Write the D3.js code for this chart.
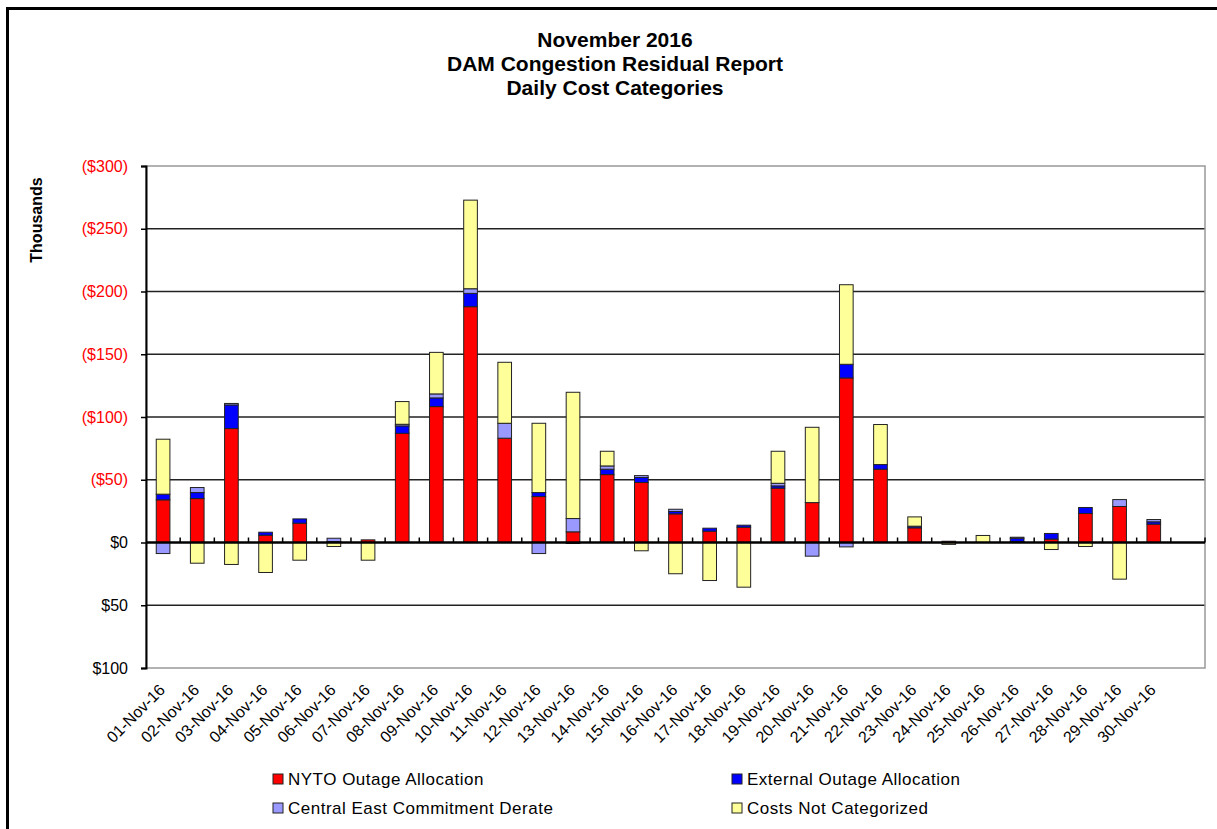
<!DOCTYPE html>
<html>
<head>
<meta charset="utf-8">
<script src="https://cdn.jsdelivr.net/npm/d3@7"></script>
<style>
  body { margin: 0; background: #fff; }
  svg { display: block; font-family: "Liberation Sans", Arial, sans-serif; }
</style>
</head>
<body>
<svg id="chart" width="1217" height="829"></svg>
<script>
// thousands of dollars; costs (negative) plot upward as ($...)
const days = ["01-Nov-16","02-Nov-16","03-Nov-16","04-Nov-16","05-Nov-16","06-Nov-16","07-Nov-16","08-Nov-16","09-Nov-16","10-Nov-16",
  "11-Nov-16","12-Nov-16","13-Nov-16","14-Nov-16","15-Nov-16","16-Nov-16","17-Nov-16","18-Nov-16","19-Nov-16","20-Nov-16",
  "21-Nov-16","22-Nov-16","23-Nov-16","24-Nov-16","25-Nov-16","26-Nov-16","27-Nov-16","28-Nov-16","29-Nov-16","30-Nov-16"];

const nytoOutage = [-34.0,-35.0,-90.8,-5.8,-15.4,0,-2.1,-87.0,-108.3,-187.9,
  -83.1,-36.6,-8.5,-54.1,-47.8,-22.8,-9.0,-12.2,-43.3,-31.8,
  -131.1,-58.4,-11.7,-1.0,0,-0.8,-2.7,-23.1,-28.7,-14.6];
const externalOutage = [-4.5,-4.8,-18.8,-2.4,-3.4,-0.8,0,-5.9,-6.9,-10.6,
  0,-3.2,0.8,-4.3,-4.0,-1.9,-2.4,-1.6,-1.8,0,
  -10.9,-3.7,-1.3,0,0,-2.5,-4.5,-4.8,0,-1.9];
const centralEast = [8.8,-4.0,-1.2,0,0,-2.6,0,-1.3,-3.2,-3.7,
  -11.9,8.8,-10.6,-2.6,-1.5,-1.8,0,0,-2.1,10.9,
  3.5,0,0,0,0,-0.9,0,0,-5.5,-1.8];
const notCategorized = [-43.8,16.5,17.5,23.9,14.1,3.2,14.1,-18.1,-33.1,-70.6,
  -48.6,-55.2,-100.6,-11.7,6.6,24.9,30.3,35.6,-25.5,-60.0,
  -63.4,-31.9,-7.4,1.5,-5.6,0,5.6,3.2,29.2,0];

const seriesNames = ["NYTO Outage Allocation","External Outage Allocation","Central East Commitment Derate","Costs Not Categorized"];
const seriesColors = ["#FF0000","#0000FF","#9999FF","#FFFF99"];
const yTicks = [-300,-250,-200,-150,-100,-50,0,50,100];

const svg = d3.select("#chart");
const plotLeft = 146, plotRight = 1205, plotTop = 166, plotBottom = 668;

// outer chart frame
svg.append("rect").attr("x", 7.5).attr("y", 8.5).attr("width", 1240).attr("height", 900)
  .attr("fill", "none").attr("stroke", "#000").attr("stroke-width", 3);

// title
const titleLines = ["November 2016", "DAM Congestion Residual Report", "Daily Cost Categories"];
svg.append("g").selectAll("text").data(titleLines).join("text")
  .attr("x", 615).attr("y", (d, i) => 47 + i * 24)
  .attr("text-anchor", "middle").attr("font-weight", "bold").attr("font-size", 21)
  .text(d => d);

const keys = ["nyto", "ext", "ce", "nc"];
const rows = days.map((d, i) => ({
  day: d, nyto: nytoOutage[i], ext: externalOutage[i], ce: centralEast[i], nc: notCategorized[i]
}));

const x = d3.scaleBand().domain([...days, ""]).range([plotLeft, plotRight]).paddingInner(0.6).paddingOuter(0.3);
const y = d3.scaleLinear().domain([-300, 100]).range([plotTop, plotBottom]);
const step = x.step(), bw = x.bandwidth();

// gridlines
svg.append("g").selectAll("line").data(yTicks.filter(v => v !== 0 && v !== -300 && v !== 100)).join("line")
  .attr("x1", plotLeft).attr("x2", plotRight).attr("y1", d => y(d)).attr("y2", d => y(d))
  .attr("stroke", "#222").attr("stroke-width", 1.3);

// plot border
svg.append("rect").attr("x", plotLeft).attr("y", plotTop).attr("width", plotRight - plotLeft).attr("height", plotBottom - plotTop)
  .attr("fill", "none").attr("stroke", "#999").attr("stroke-width", 1.5);

// stacked bars
const stacked = d3.stack().keys(keys).offset(d3.stackOffsetDiverging)(rows);
svg.append("g").selectAll("g").data(stacked).join("g")
  .attr("fill", (d, i) => seriesColors[i])
  .selectAll("rect").data(d => d.filter(p => p[1] - p[0] !== 0)).join("rect")
  .attr("x", d => x(d.data.day))
  .attr("width", bw)
  .attr("y", d => Math.min(y(d[0]), y(d[1])))
  .attr("height", d => Math.abs(y(d[1]) - y(d[0])))
  .attr("stroke", "#222").attr("stroke-width", 1);

// y axis
const yAxis = d3.axisLeft(y).tickValues(yTicks).tickSize(5)
  .tickFormat(v => v < 0 ? `($${-v})` : `$${v}`);
const yg = svg.append("g").attr("transform", `translate(${plotLeft},0)`).call(yAxis);
yg.select(".domain").attr("stroke", "#000").attr("stroke-width", 2);
yg.selectAll(".tick line").attr("stroke", "#000").attr("stroke-width", 1.5);
yg.selectAll(".tick text").attr("font-size", 16).attr("font-family", "Liberation Sans, Arial, sans-serif")
  .attr("x", -18).attr("fill", d => d < 0 ? "#FF0000" : "#000");

// zero line with category ticks
svg.append("line").attr("x1", plotLeft).attr("x2", plotRight).attr("y1", y(0)).attr("y2", y(0))
  .attr("stroke", "#000").attr("stroke-width", 2.5);
svg.append("g").selectAll("line").data(days.concat([""])).join("line")
  .attr("x1", d => x(d) - (step - bw) / 2 + step).attr("x2", d => x(d) - (step - bw) / 2 + step)
  .attr("y1", y(0) - 5).attr("y2", y(0))
  .attr("stroke", "#000").attr("stroke-width", 1.5);

// x labels
svg.append("g").selectAll("text").data(days).join("text")
  .attr("transform", d => `translate(${x(d) + bw / 2 + 3},691) rotate(-45)`)
  .attr("text-anchor", "end").attr("font-size", 16)
  .text(d => d);

// y axis title
svg.append("text").attr("transform", "translate(42,220) rotate(-90)")
  .attr("text-anchor", "middle").attr("font-weight", "bold").attr("font-size", 16)
  .text("Thousands");

// legend
const legendPos = [[273, 779], [732, 779], [273, 808], [732, 808]];
const lg = svg.append("g").selectAll("g").data(seriesNames).join("g")
  .attr("transform", (d, i) => `translate(${legendPos[i][0]},${legendPos[i][1]})`);
lg.append("rect").attr("x", 0).attr("y", -5).attr("width", 10).attr("height", 10)
  .attr("fill", (d, i) => seriesColors[i]).attr("stroke", "#222").attr("stroke-width", 1);
lg.append("text").attr("x", 15).attr("y", 6).attr("font-size", 17).attr("letter-spacing", 0.5).text(d => d);
</script>
</body>
</html>
